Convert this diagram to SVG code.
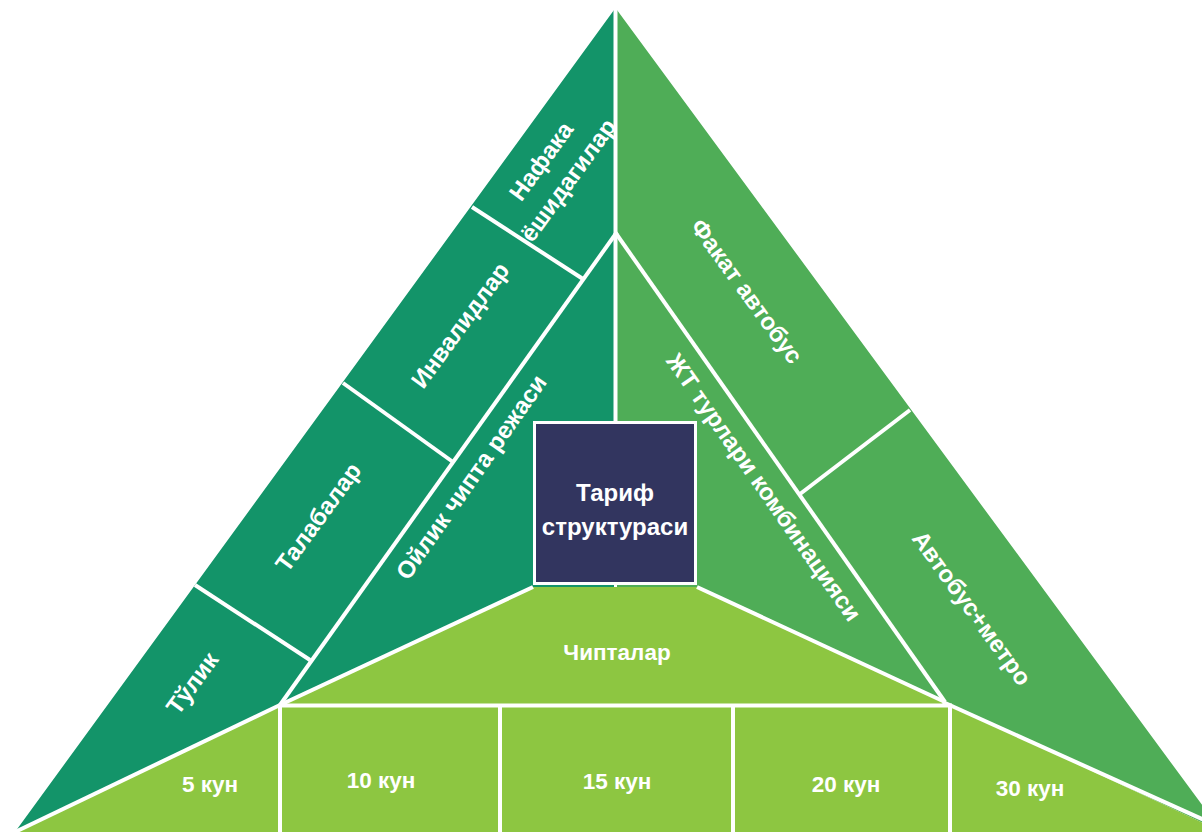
<svg xmlns="http://www.w3.org/2000/svg" width="1202" height="832" viewBox="0 0 1202 832">
<style>
.t{font-family:"Liberation Sans",Arial,sans-serif;font-weight:bold;fill:#ffffff;text-anchor:middle;dominant-baseline:central}
.r{font-size:24px}
.b{font-size:22.5px}
.w{stroke:#ffffff;stroke-width:4;fill:none;stroke-linecap:butt}
</style>
<rect width="1202" height="832" fill="#ffffff"/>
<g id="left-region"><polygon points="614,10 15,832 280,705 614,705" fill="#139469"/></g>
<g id="right-region"><polygon points="617,10 1222,832 945,702 617,702" fill="#4fad57"/></g>
<g id="tickets-region"><polygon points="15,832 280,705 533,587 697,587 945,702 1222,832" fill="#8dc641"/></g>
<g id="connectors">
<line class="w" x1="615.5" y1="0" x2="615.5" y2="423"/>
<line class="w" x1="617" y1="232" x2="280" y2="705"/>
<line class="w" x1="615" y1="232" x2="945" y2="702"/>
<line class="w" x1="533" y1="587" x2="280" y2="705"/>
<line class="w" x1="697" y1="587" x2="945" y2="702"/>
<line class="w" x1="280" y1="705.5" x2="952" y2="705.5"/>
<line class="w" x1="280" y1="705" x2="15" y2="832"/>
<line class="w" x1="943" y1="702" x2="1222" y2="828"/>
<line class="w" x1="280" y1="705" x2="280" y2="832"/>
<line class="w" x1="500" y1="705" x2="500" y2="832"/>
<line class="w" x1="733" y1="705" x2="733" y2="832"/>
<line class="w" x1="950" y1="705" x2="950" y2="832"/>
<line class="w" x1="195" y1="585" x2="310" y2="660"/>
<line class="w" x1="343" y1="383" x2="453" y2="462"/>
<line class="w" x1="472" y1="207" x2="583" y2="279"/>
<line class="w" x1="910" y1="410" x2="800" y2="494"/>
</g>
<g id="center"><rect x="534.5" y="422.5" width="161" height="161" fill="#32355f" stroke="#ffffff" stroke-width="3"/>
<text class="t r" x="615" y="492">Тариф</text>
<text class="t r" x="615" y="526">структураси</text></g>
<g id="n-tulik"><text class="t r" transform="translate(192,683) rotate(-54)">Тўлик</text></g>
<g id="n-talabalar"><text class="t r" transform="translate(318,517) rotate(-54)">Талабалар</text></g>
<g id="n-invalid"><text class="t r" transform="translate(460,325) rotate(-54)">Инвалидлар</text></g>
<g id="n-nafaka"><text class="t r" transform="translate(541,161) rotate(-54)">Нафака</text>
<text class="t r" transform="translate(568,180) rotate(-54)">ёшидагилар</text></g>
<g id="n-oylik"><text class="t r" transform="translate(471,477) rotate(-55)">Ойлик чипта режаси</text></g>
<g id="n-jt"><text class="t r" transform="translate(764,487) rotate(55)">ЖТ турлари комбинацияси</text></g>
<g id="n-fakat"><text class="t r" transform="translate(747,291) rotate(54)">Факат автобус</text></g>
<g id="n-avtobus"><text class="t r" transform="translate(972,608) rotate(54)">Автобус+метро</text></g>
<g id="n-chipta"><text class="t b" x="617" y="652">Чипталар</text></g>
<g id="n-5"><text class="t b" x="210" y="784">5 кун</text></g>
<g id="n-10"><text class="t b" x="381" y="780">10 кун</text></g>
<g id="n-15"><text class="t b" x="617" y="781">15 кун</text></g>
<g id="n-20"><text class="t b" x="846" y="784">20 кун</text></g>
<g id="n-30"><text class="t b" x="1030" y="788">30 кун</text></g>
</svg>
